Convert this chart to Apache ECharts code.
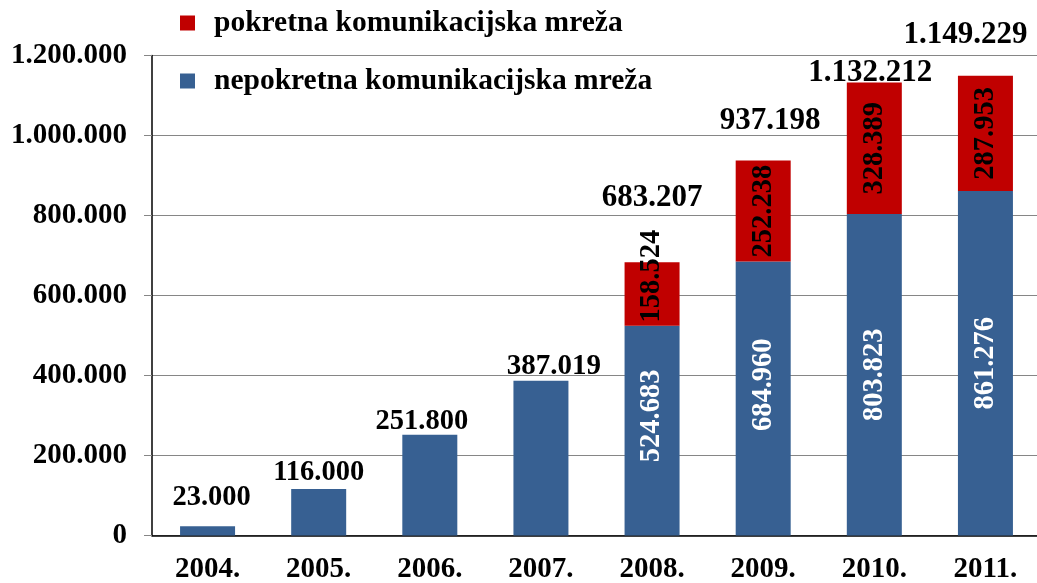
<!DOCTYPE html>
<html>
<head>
<meta charset="utf-8">
<script src="https://cdn.jsdelivr.net/npm/echarts@6/dist/echarts.min.js"></script>
<style>
  html, body { margin: 0; padding: 0; background: #fff; }
  #chart { width: 1037px; height: 583px; }
</style>
</head>
<body>
<div id="chart"></div>
<script>
// podaci
const years = ['2004.', '2005.', '2006.', '2007.', '2008.', '2009.', '2010.', '2011.'];
const nepokretna = [23000, 116000, 251800, 387019, 524683, 684960, 803823, 861276];
const pokretna = [null, null, null, null, 158524, 252238, 328389, 287953];
const yTicks = [0, 200000, 400000, 600000, 800000, 1000000, 1200000];

const FONT = 'Liberation Serif';
const BLUE = '#376092';
const RED = '#C00000';

function fmt(n) {
  return String(n).replace(/\B(?=(\d{3})+(?!\d))/g, '.');
}

const totals = nepokretna.map((v, i) => v + (pokretna[i] || 0));

// pomaci natpisa (kao u excelu, rucno pomaknuti)
const totalOffset = [[4, -29], [0, -16], [-8, -13], [13, -14], [0, -64], [7, -40], [-4, -10], [-20, -41]];
const totalSize = [28.5, 28.5, 28.5, 29, 31, 31, 31, 31];
const bluePos = { 4: '43%', 5: '45%' };
const redPos = { 4: '22%' };

const insideLabel = {
  show: true,
  rotate: 90,
  position: ['50%', '50%'],
  align: 'center',
  verticalAlign: 'middle',
  fontFamily: FONT,
  fontWeight: 'bold',
  fontSize: 28.5,
  textBorderWidth: 0,
  textBorderColor: 'transparent',
  formatter: p => fmt(p.value)
};

const chart = echarts.init(document.getElementById('chart'));
chart.setOption({
  animation: false,
  textStyle: { fontFamily: FONT },
  grid: { left: 152, right: -4, top: 55.5, bottom: 47.5, containLabel: false, outerBoundsMode: 'none' },
  legend: {
    orient: 'vertical',
    left: 180,
    top: 8,
    padding: 0,
    itemWidth: 15,
    itemHeight: 15,
    itemGap: 28,
    icon: 'rect',
    data: ['pokretna komunikacijska mreža', 'nepokretna komunikacijska mreža'],
    textStyle: {
      fontFamily: FONT, fontWeight: 'bold', fontSize: 29.5, color: '#000',
      lineHeight: 30, padding: [0, 0, 0, 14]
    }
  },
  xAxis: {
    type: 'category',
    data: years,
    axisLine: { lineStyle: { color: '#000', width: 1.5 } },
    axisTick: { length: 8, lineStyle: { color: '#868686' } },
    axisLabel: { color: '#000', fontFamily: FONT, fontWeight: 'bold', fontSize: 29, margin: 20 }
  },
  yAxis: {
    type: 'value',
    min: 0,
    max: 1200000,
    interval: 200000,
    axisLine: { show: true, lineStyle: { color: '#000', width: 1.5 } },
    axisTick: { show: true, length: 8, lineStyle: { color: '#868686' } },
    splitLine: { lineStyle: { color: '#868686', width: 1 } },
    axisLabel: {
      color: '#000', fontFamily: FONT, fontWeight: 'bold', fontSize: 29, margin: 25,
      formatter: v => yTicks.includes(v) ? fmt(v) : ''
    }
  },
  series: [
    {
      name: 'nepokretna komunikacijska mreža',
      type: 'bar',
      stack: 'ukupno',
      barWidth: 55,
      itemStyle: { color: BLUE },
      data: nepokretna.map((v, i) => ({
        value: v,
        label: i >= 4
          ? Object.assign({}, insideLabel, { color: '#fff', position: ['50%', bluePos[i] || '50%'] })
          : { show: false }
      }))
    },
    {
      name: 'pokretna komunikacijska mreža',
      type: 'bar',
      stack: 'ukupno',
      barWidth: 55,
      itemStyle: { color: RED },
      data: pokretna.map((v, i) => ({
        value: v,
        label: v
          ? Object.assign({}, insideLabel, { color: '#000', position: ['50%', redPos[i] || '50%'] })
          : { show: false }
      }))
    },
    {
      // ukupni zbroj iznad stupaca, samo natpis
      name: 'ukupno',
      type: 'scatter',
      symbolSize: 0,
      z: 10,
      silent: true,
      itemStyle: { opacity: 1 },
      data: totals.map((v, i) => ({
        value: v,
        label: {
          show: true,
          position: 'inside',
          offset: totalOffset[i],
          color: '#000',
          opacity: 1,
          textBorderWidth: 0,
          textBorderColor: 'transparent',
          fontFamily: FONT,
          fontWeight: 'bold',
          fontSize: totalSize[i],
          formatter: p => fmt(p.value)
        }
      }))
    }
  ]
});
</script>
</body>
</html>
